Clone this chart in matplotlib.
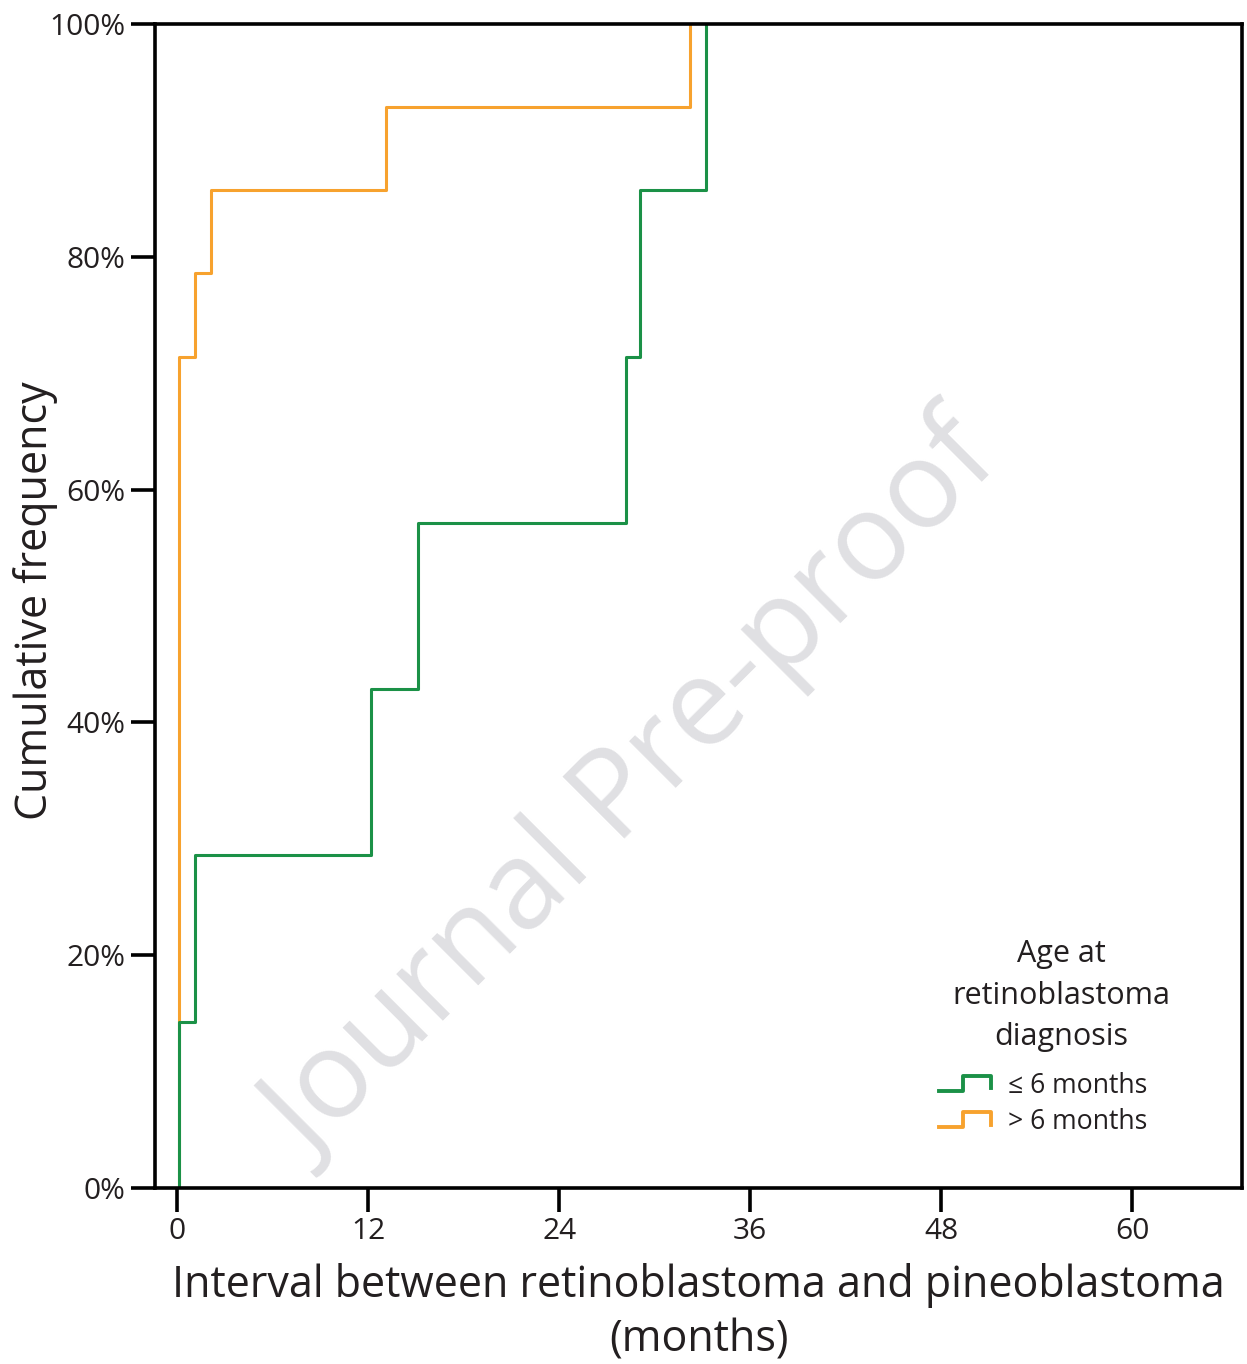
import matplotlib
matplotlib.use("Agg")
import matplotlib.pyplot as plt
from matplotlib.lines import Line2D
from matplotlib.legend_handler import HandlerBase

plt.rcParams['font.family'] = ['Open Sans', 'DejaVu Sans']

# event times (months) and cumulative frequency after each step
young_x = [0.1, 0.1, 1.1, 12.2, 15.1, 28.2, 29.1, 33.2]
young_y = [0.0, 0.143, 0.286, 0.429, 0.571, 0.714, 0.857, 1.0]
old_x = [0.1, 0.1, 1.1, 2.1, 13.1, 32.2]
old_y = [0.0, 0.714, 0.786, 0.857, 0.929, 1.0]

xticks = [0, 12, 24, 36, 48, 60]
yticks = [0, 0.2, 0.4, 0.6, 0.8, 1.0]
ytick_labels = ['0%', '20%', '40%', '60%', '80%', '100%']

green = '#1b9147'
orange = '#f7a22e'
txt = '#231f20'


class StepHandler(HandlerBase):
    def create_artists(self, legend, orig_handle, xdescent, ydescent,
                       width, height, fontsize, trans):
        xs = [0, 0.47 * width, 0.47 * width, width, width]
        ys = [0, 0, height, height, 0.15 * height]
        ln = Line2D([x - xdescent for x in xs], [y - ydescent for y in ys],
                    color=orig_handle.get_color(), lw=orig_handle.get_linewidth())
        ln.set_transform(trans)
        return [ln]


fig = plt.figure(figsize=(12.47, 13.64), dpi=100)
ax = fig.add_axes([0.1243, 0.129, 0.8717, 0.8534])

ax.step(old_x + [old_x[-1]], old_y + [old_y[-1]], where='post', color=orange, lw=2.2)
ax.step(young_x, young_y, where='post', color=green, lw=2.2)

ax.set_xlim(-1.4, 66.9)
ax.set_ylim(0, 1)
ax.set_xticks(xticks)
ax.set_yticks(yticks)
ax.set_yticklabels(ytick_labels)
for s in ax.spines.values():
    s.set_linewidth(2.6)
    s.set_color('black')
ax.tick_params(axis='both', direction='out', length=17, width=2.6,
               labelsize=21.5, labelcolor=txt, pad=4)

ax.set_xlabel('Interval between retinoblastoma and pineoblastoma\n(months)',
              fontsize=31, color=txt, linespacing=1.3)
ax.xaxis.set_label_coords(0.5, -0.064, transform=ax.transAxes)
ax.xaxis.label.set_va('top')
ax.set_ylabel('Cumulative frequency', fontsize=31, color=txt)
ax.yaxis.set_label_coords(-0.110, 0.505)
ax.yaxis.label.set_va('center')

ax.text(0.442, 0.34, 'Journal Pre-proof', transform=ax.transAxes, rotation=45,
        rotation_mode='anchor', fontsize=88, color='#e0e0e3',
        ha='center', va='center', zorder=0)

ax.text(0.834, 0.165, 'Age at\nretinoblastoma\ndiagnosis', transform=ax.transAxes,
        fontsize=22, color=txt, ha='center', va='center', linespacing=1.5)

h1 = Line2D([], [], color=green, lw=2.8)
h2 = Line2D([], [], color=orange, lw=2.8)
leg = ax.legend([h1, h2], ['\u2264 6 months', '> 6 months'],
                handler_map={Line2D: StepHandler()},
                loc='upper left', bbox_to_anchor=(0.721, 0.100),
                borderaxespad=0, borderpad=0,
                frameon=False, fontsize=19.2,
                handlelength=1.95, handleheight=0.5, handletextpad=0.65,
                labelspacing=0.32)
plt.setp(leg.get_texts(), color=txt)

plt.savefig('out.png', dpi=100)
